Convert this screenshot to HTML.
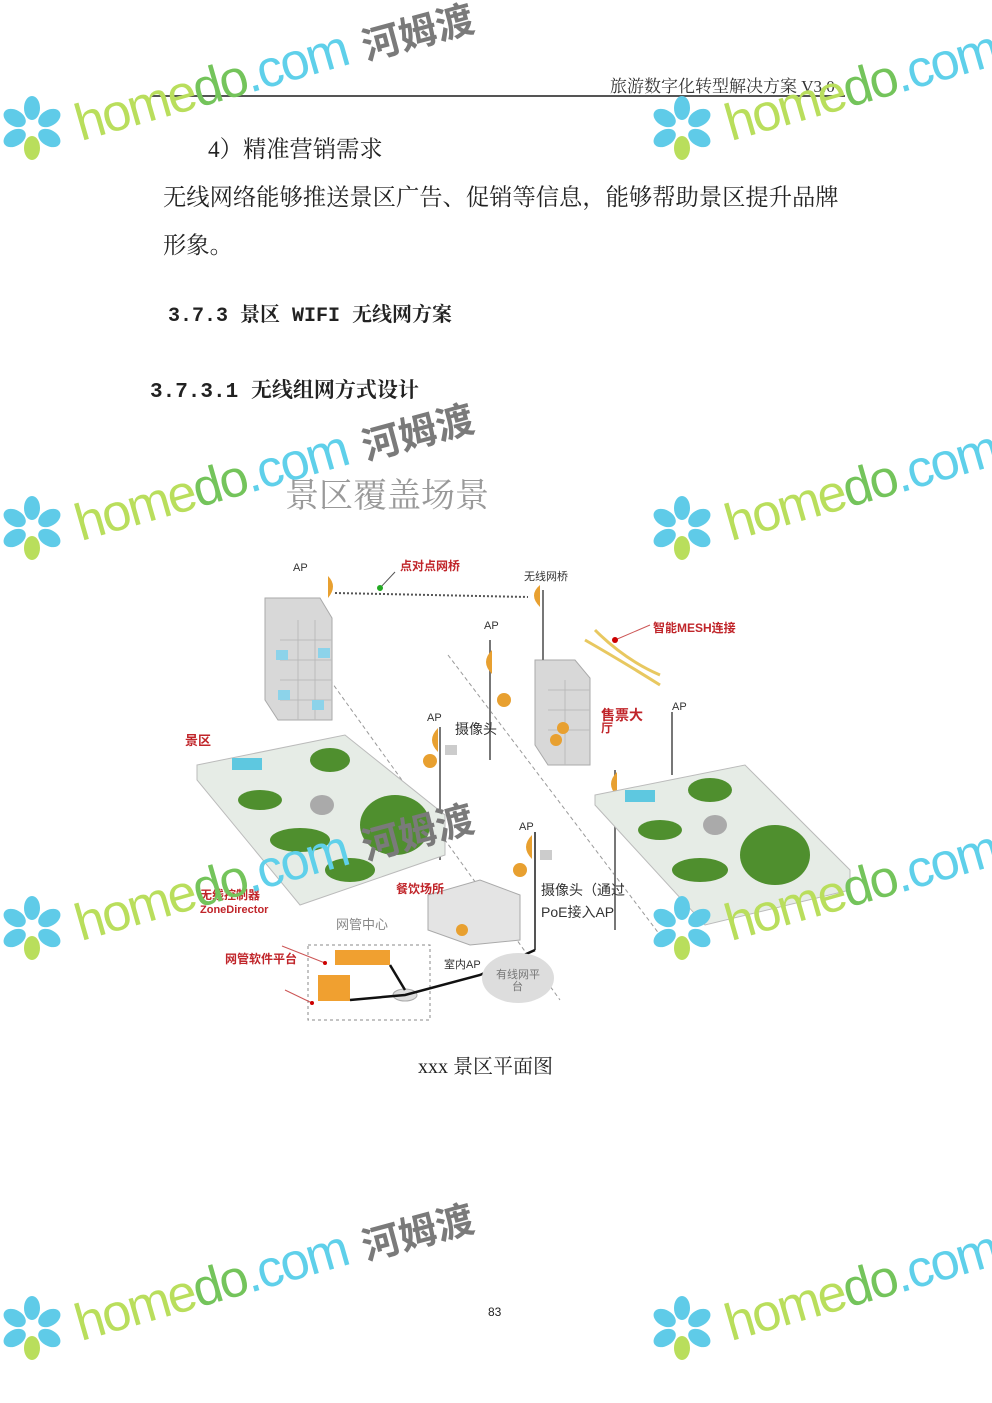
<!DOCTYPE html>
<html><head><meta charset="utf-8"><style>
body{margin:0;background:#fff}
.pg{position:relative;width:992px;height:1403px;overflow:hidden;background:#fff;font-family:"Liberation Serif","Noto Serif CJK SC",serif;color:#222}
.t{position:absolute;white-space:nowrap}
.wm{position:absolute;transform-origin:0 0;transform:rotate(-16deg);font-family:"Liberation Sans",sans-serif;font-size:52px;white-space:nowrap;letter-spacing:-2px}
.h{color:#b9de5c}.d{color:#74c45b}.c{color:#5fd0ea}
.hm{position:absolute;transform:rotate(-15deg);font-family:"Liberation Sans","Noto Sans CJK SC",sans-serif;font-weight:bold;font-size:38px;color:#7a7a7a;white-space:nowrap}
.s{font-family:"Liberation Sans","Noto Sans CJK SC",sans-serif}
.m{font-family:"Liberation Mono","Noto Serif CJK SC",monospace;font-weight:bold}
</style></head><body><div class="pg">

<div class="t" style="left:610px;top:72px;font-size:17px;color:#333">旅游数字化转型解决方案 V3.0</div>
<div style="position:absolute;left:150px;top:95px;width:695px;height:2px;background:#555"></div>

<div class="t" style="left:208px;top:130px;font-size:23.3px">4）精准营销需求</div>
<div class="t" style="left:163px;top:178px;font-size:23.3px">无线网络能够推送景区广告、促销等信息，能够帮助景区提升品牌</div>
<div class="t" style="left:163px;top:226px;font-size:23.3px">形象。</div>
<div class="t m" style="left:168px;top:298px;font-size:20px">3.7.3 景区 WIFI 无线网方案</div>
<div class="t m" style="left:150px;top:374px;font-size:21px">3.7.3.1 无线组网方式设计</div>
<div class="t" style="left:285px;top:468px;font-size:34px;color:#999">景区覆盖场景</div>

<svg style="position:absolute;left:0;top:0" width="992" height="1403" font-family="Liberation Sans,Noto Sans CJK SC,sans-serif">
<line x1="335" y1="593" x2="528" y2="597" stroke="#555" stroke-width="2" stroke-dasharray="2,2"/>
<line x1="330" y1="680" x2="560" y2="1000" stroke="#999" stroke-dasharray="4,3"/>
<line x1="448" y1="655" x2="660" y2="935" stroke="#999" stroke-dasharray="4,3"/>
<polygon points="265,598 320,598 332,618 332,720 278,720 265,700" fill="#d8d8d8" stroke="#aaa"/>
<g stroke="#bbb" fill="none"><line x1="280" y1="640" x2="332" y2="640"/><line x1="280" y1="660" x2="332" y2="660"/><line x1="280" y1="680" x2="332" y2="680"/><line x1="280" y1="700" x2="332" y2="700"/><line x1="298" y1="620" x2="298" y2="720"/><line x1="315" y1="620" x2="315" y2="720"/></g>
<rect x="276" y="650" width="12" height="10" fill="#8cd3ea"/><rect x="318" y="648" width="12" height="10" fill="#8cd3ea"/><rect x="278" y="690" width="12" height="10" fill="#8cd3ea"/><rect x="312" y="700" width="12" height="10" fill="#8cd3ea"/>
<path d="M328,576 q10,10 0,22 z" fill="#e8a030"/>
<polygon points="535,660 575,660 590,678 590,765 548,765 535,745" fill="#d8d8d8" stroke="#aaa"/>
<g stroke="#bbb"><line x1="548" y1="690" x2="590" y2="690"/><line x1="548" y1="710" x2="590" y2="710"/><line x1="548" y1="730" x2="590" y2="730"/><line x1="565" y1="680" x2="565" y2="765"/></g>
<circle cx="556" cy="740" r="6" fill="#e8a030"/><circle cx="563" cy="728" r="6" fill="#e8a030"/>
<line x1="543" y1="590" x2="543" y2="660" stroke="#777" stroke-width="2"/>
<path d="M540,585 q-12,10 0,22 z" fill="#e8a030"/>
<path d="M585,640 q35,20 75,45" stroke="#e8c860" stroke-width="3" fill="none"/><path d="M595,630 q30,30 65,45" stroke="#e8c860" stroke-width="3" fill="none"/>
<line x1="490" y1="640" x2="490" y2="760" stroke="#777" stroke-width="2"/><path d="M492,650 q-12,12 0,24 z" fill="#e8a030"/><circle cx="504" cy="700" r="7" fill="#e8a030"/>
<line x1="440" y1="727" x2="440" y2="860" stroke="#777" stroke-width="2"/><path d="M438,728 q-12,12 0,24 z" fill="#e8a030"/><circle cx="430" cy="761" r="7" fill="#e8a030"/><rect x="445" y="745" width="12" height="10" fill="#ccc"/>
<line x1="535" y1="832" x2="535" y2="950" stroke="#555" stroke-width="2"/><path d="M532,835 q-12,12 0,24 z" fill="#e8a030"/><circle cx="520" cy="870" r="7" fill="#e8a030"/><rect x="540" y="850" width="12" height="10" fill="#ccc"/>
<line x1="672" y1="712" x2="672" y2="775" stroke="#777" stroke-width="2"/>
<line x1="615" y1="770" x2="615" y2="930" stroke="#777" stroke-width="2"/><path d="M617,772 q-12,12 0,24 z" fill="#e8a030"/>
<polygon points="197,765 345,735 445,815 445,855 300,905 197,780" fill="#e6ece6" stroke="#bbb"/>
<g fill="#4f8f2e"><ellipse cx="395" cy="825" rx="35" ry="30"/><ellipse cx="330" cy="760" rx="20" ry="12"/><ellipse cx="260" cy="800" rx="22" ry="10"/><ellipse cx="300" cy="840" rx="30" ry="12"/><ellipse cx="350" cy="870" rx="25" ry="12"/></g>
<rect x="232" y="758" width="30" height="12" fill="#5ec8e0"/><ellipse cx="322" cy="805" rx="12" ry="10" fill="#aaa"/>
<polygon points="595,795 745,765 850,870 850,890 705,925 595,805" fill="#e6ece6" stroke="#bbb"/>
<g fill="#4f8f2e"><ellipse cx="775" cy="855" rx="35" ry="30"/><ellipse cx="710" cy="790" rx="22" ry="12"/><ellipse cx="660" cy="830" rx="22" ry="10"/><ellipse cx="700" cy="870" rx="28" ry="12"/></g>
<rect x="625" y="790" width="30" height="12" fill="#5ec8e0"/><ellipse cx="715" cy="825" rx="12" ry="10" fill="#aaa"/>
<polygon points="428,895 480,880 520,895 520,940 470,945 428,930" fill="#e4e4e4" stroke="#aaa"/>
<circle cx="462" cy="930" r="6" fill="#e8a030"/>
<rect x="308" y="945" width="122" height="75" fill="none" stroke="#888" stroke-dasharray="3,3"/>
<rect x="335" y="950" width="55" height="15" fill="#f0a030"/>
<rect x="318" y="975" width="32" height="26" fill="#f0a030"/>
<ellipse cx="405" cy="995" rx="12" ry="6" fill="#ddd" stroke="#aaa"/>
<path d="M350,1000 L405,995 L480,975 L535,950" stroke="#111" stroke-width="2.5" fill="none"/>
<line x1="390" y1="965" x2="405" y2="990" stroke="#111" stroke-width="2.5"/>
<ellipse cx="518" cy="978" rx="36" ry="25" fill="#ddd"/>
<line x1="282" y1="946" x2="325" y2="963" stroke="#c55"/><circle cx="325" cy="963" r="2" fill="#c00"/>
<line x1="285" y1="990" x2="312" y2="1003" stroke="#c55"/><circle cx="312" cy="1003" r="2" fill="#c00"/>
<line x1="395" y1="572" x2="380" y2="588" stroke="#555"/><circle cx="380" cy="588" r="3" fill="#2a2"/>
<line x1="650" y1="625" x2="615" y2="640" stroke="#c55"/><circle cx="615" cy="640" r="3" fill="#c00"/>
<g font-size="11" fill="#333"><text x="293" y="571">AP</text><text x="484" y="629">AP</text><text x="427" y="721">AP</text><text x="672" y="710">AP</text><text x="519" y="830">AP</text><text x="524" y="580">无线网桥</text><text x="444" y="968">室内AP</text><text x="496" y="978" fill="#777">有线网平</text><text x="512" y="990" fill="#777">台</text><text x="336" y="929" font-size="13" fill="#888">网管中心</text></g>
<g font-size="12" fill="#c0252a" font-weight="bold"><text x="400" y="570">点对点网桥</text><text x="653" y="632">智能MESH连接</text><text x="185" y="745" font-size="13">景区</text><text x="601" y="720" font-size="14">售票大</text><text x="601" y="732" font-size="12">厅</text><text x="396" y="893">餐饮场所</text><text x="200" y="899">无线控制器</text><text x="200" y="913" font-size="11">ZoneDirector</text><text x="225" y="963">网管软件平台</text></g>
<g font-size="14" fill="#333"><text x="455" y="734">摄像头</text><text x="541" y="895">摄像头（通过</text><text x="541" y="917">PoE接入AP</text></g>
</svg>

<div class="t" style="left:418px;top:1050px;font-size:20px">xxx 景区平面图</div>
<div class="t s" style="left:488px;top:1305px;font-size:12px">83</div>

<div class="wm" style="left:68px;top:96px"><span class="h">home</span><span class="d">do</span><span class="c">.com</span></div>
<div class="hm" style="left:360px;top:2px">河姆渡</div>
<div class="wm" style="left:718px;top:96px"><span class="h">home</span><span class="d">do</span><span class="c">.com</span></div>
<div class="wm" style="left:68px;top:496px"><span class="h">home</span><span class="d">do</span><span class="c">.com</span></div>
<div class="hm" style="left:360px;top:402px">河姆渡</div>
<div class="wm" style="left:718px;top:496px"><span class="h">home</span><span class="d">do</span><span class="c">.com</span></div>
<div class="wm" style="left:68px;top:896px"><span class="h">home</span><span class="d">do</span><span class="c">.com</span></div>
<div class="hm" style="left:360px;top:802px">河姆渡</div>
<div class="wm" style="left:718px;top:896px"><span class="h">home</span><span class="d">do</span><span class="c">.com</span></div>
<div class="wm" style="left:68px;top:1296px"><span class="h">home</span><span class="d">do</span><span class="c">.com</span></div>
<div class="hm" style="left:360px;top:1202px">河姆渡</div>
<div class="wm" style="left:718px;top:1296px"><span class="h">home</span><span class="d">do</span><span class="c">.com</span></div>

<svg style="position:absolute;left:0;top:0" width="992" height="1403">
<defs><g id="f"><g fill="#5fcbe8"><ellipse cx="0" cy="-20" rx="8" ry="12"/><ellipse cx="0" cy="-20" rx="8" ry="12" transform="rotate(60)"/><ellipse cx="0" cy="-20" rx="8" ry="12" transform="rotate(120)"/><ellipse cx="0" cy="-20" rx="8" ry="12" transform="rotate(-60)"/><ellipse cx="0" cy="-20" rx="8" ry="12" transform="rotate(-120)"/></g><ellipse cx="0" cy="20" rx="8" ry="12" fill="#b9de5c"/><circle cx="0" cy="0" r="3" fill="#fff"/></g></defs>
<use href="#f" x="32" y="128"/><use href="#f" x="682" y="128"/>
<use href="#f" x="32" y="528"/><use href="#f" x="682" y="528"/>
<use href="#f" x="32" y="928"/><use href="#f" x="682" y="928"/>
<use href="#f" x="32" y="1328"/><use href="#f" x="682" y="1328"/>
</svg>
</div></body></html>
